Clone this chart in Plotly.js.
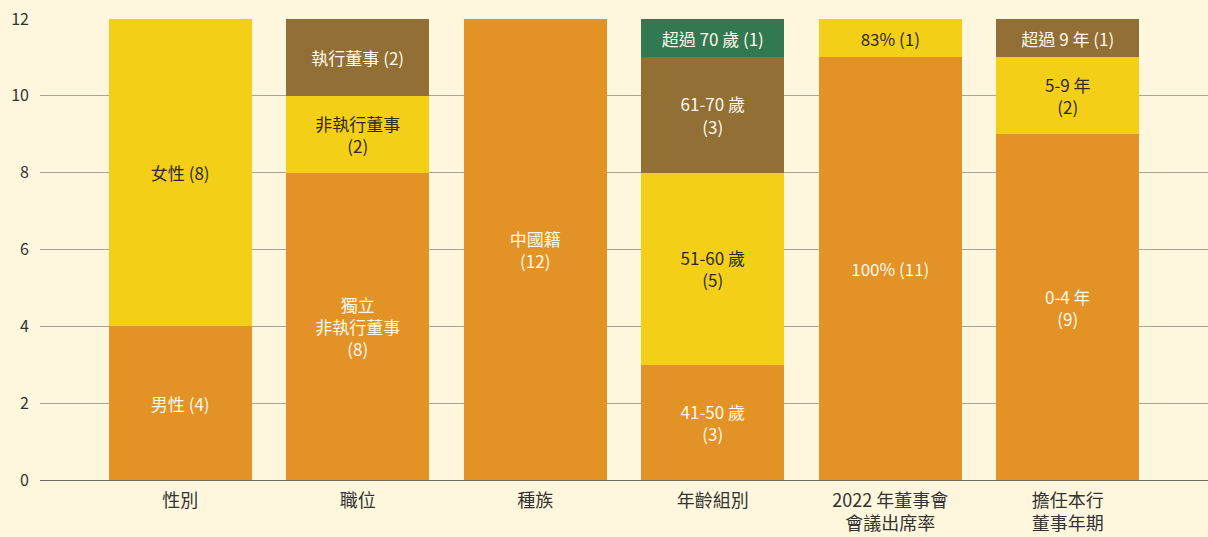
<!DOCTYPE html>
<html>
<head>
<meta charset="utf-8">
<script src="https://cdn.plot.ly/plotly-3.0.1.min.js"></script>
<style>html,body{margin:0;padding:0;background:#FFF7DD;}#chart{width:1208px;height:537px;}</style>
</head>
<body>
<div id="chart"></div>
<script>
const categories = ['性別', '職位', '種族', '年齡組別', '2022 年董事會<br>會議出席率', '擔任本行<br>董事年期'];

const layer1Values = [4, 8, 12, 3, 11, 9];
const layer1Labels = ['男性 (4)', '獨立<br>非執行董事<br>(8)', '中國籍<br>(12)', '41-50 歲<br>(3)', '100% (11)', '0-4 年<br>(9)'];

const layer2Values = [8, 2, null, 5, 1, 2];
const layer2Labels = ['女性 (8)', '非執行董事<br>(2)', '', '51-60 歲<br>(5)', '83% (1)', '5-9 年<br>(2)'];

const layer3Values = [null, 2, null, 3, null, 1];
const layer3Labels = ['', '執行董事 (2)', '', '61-70 歲<br>(3)', '', '超過 9 年 (1)'];

const layer4Values = [null, null, null, 1, null, null];
const layer4Labels = ['', '', '', '超過 70 歲 (1)', '', ''];

const yTicks = [0, 2, 4, 6, 8, 10, 12];

const FONT = '"Noto Sans CJK TC", "Noto Sans", sans-serif';

function layer(values, labels, color, textColor) {
  return {
    type: 'bar',
    x: categories,
    y: values,
    text: labels,
    texttemplate: '%{text}',
    textposition: 'inside',
    insidetextanchor: 'middle',
    textangle: 0,
    textfont: {family: FONT, size: 17, color: textColor},
    marker: {color: color, line: {width: 0}},
    hoverinfo: 'skip',
    showlegend: false
  };
}

const data = [
  layer(layer1Values, layer1Labels, '#E39325', '#FFF8EC'),
  layer(layer2Values, layer2Labels, '#F4CF17', '#2E2A22'),
  layer(layer3Values, layer3Labels, '#926F34', '#FFF8EC'),
  layer(layer4Values, layer4Labels, '#327850', '#FFF8EC')
];

const layout = {
  width: 1208,
  height: 537,
  margin: {l: 40, r: 0, t: 19, b: 57},
  paper_bgcolor: '#FFF7DD',
  plot_bgcolor: '#FFF7DD',
  barmode: 'stack',
  bargap: 0.194,
  font: {family: FONT, color: '#333333'},
  xaxis: {
    type: 'category',
    range: [-0.79, 5.79],
    showgrid: false,
    showline: false,
    ticks: '',
    ticklabelstandoff: 8,
    tickfont: {family: FONT, size: 18, color: '#333333'},
    fixedrange: true
  },
  yaxis: {
    range: [0, 12],
    tickvals: yTicks,
    ticktext: yTicks.map(String),
    showgrid: true,
    gridcolor: '#A8A398',
    gridwidth: 1,
    zeroline: true,
    zerolinecolor: '#6E6A62',
    zerolinewidth: 1,
    showline: false,
    ticks: '',
    ticklabelstandoff: 10,
    tickfont: {family: FONT, size: 16, color: '#333333'},
    fixedrange: true
  }
};

Plotly.newPlot('chart', data, layout, {displayModeBar: false, staticPlot: true});
</script>
</body>
</html>
